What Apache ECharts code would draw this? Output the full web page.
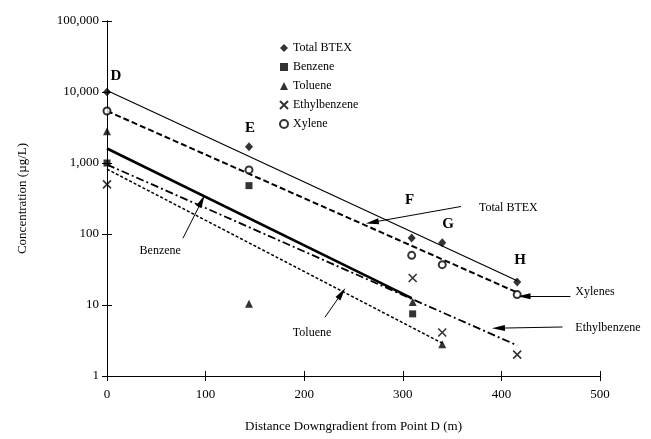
<!DOCTYPE html>
<html><head><meta charset="utf-8">
<script src="https://cdn.jsdelivr.net/npm/echarts@6/dist/echarts.min.js"></script>
<style>html,body{margin:0;padding:0;background:#fff}#c{width:651px;height:439px}</style>
</head><body><div id="c"></div>
<script>
// ---- data ----
const xTicks = [0, 100, 200, 300, 400, 500];
const yTicks = [1, 10, 100, 1000, 10000, 100000];

const totalBTEX   = [[0, 10000], [144, 1700], [309, 88], [340, 75], [416, 21]];
const benzene     = [[0, 1000], [144, 480], [310, 7.5]];
const toluene     = [[0, 2800], [144, 10.4], [310, 11], [340, 2.8]];
const ethylbenz   = [[0, 500], [310, 24], [340, 4.1], [416, 2]];
const xylene      = [[0, 5400], [144, 800], [309, 50], [340, 37], [416, 14]];

const fitTotal    = [[0, 10500], [416, 22]];
const fitXylene   = [[0, 5400], [416, 15]];
const fitBenzene  = [[0, 1600], [309, 12.5]];
const fitEthyl    = [[0, 950], [416, 2.7]];
const fitToluene  = [[0, 820], [341, 2.85]];

const pointNames  = ['D', 'E', 'F', 'G', 'H'];
const pointLabelX = [9, 145, 307, 346, 419];
const pointLabelY = [16900, 3140, 296, 136, 42.6];

const calloutText = ['Total BTEX', 'Benzene', 'Toluene', 'Xylenes', 'Ethylbenzene'];
const calloutX    = [407, 54, 208, 475, 475];
const calloutY    = [236, 57, 4.0, 15.3, 4.75];
const calloutAlign= ['center', 'center', 'center', 'left', 'left'];

const arrowFrom   = [[359, 244], [77, 87], [221, 6.7], [470, 13.3], [462, 4.9]];
const arrowTo     = [[269, 146], [96, 290], [238, 14.6], [423, 13.3], [397, 4.72]];

// ---- chart ----
const FONT = '"Liberation Serif", "DejaVu Serif", serif';
const chart = echarts.init(document.getElementById('c'));
const grid = { left: 107, right: 51, top: 21, bottom: 63 };
const fmt = v => Number(v).toLocaleString('en-US');

const yBase = {
  type: 'log', logBase: 10, min: 1, max: 100000,
  splitLine: { show: false }, minorTick: { show: false }
};
const xBase = { type: 'value', min: 0, max: 500, interval: 100, splitLine: { show: false } };

function fitSeries(name, data, width, dash) {
  return {
    name: name, type: 'line', data: data, symbol: 'none', silent: true,
    lineStyle: { color: '#000', width: width, type: dash },
    z: 2, animation: false
  };
}
function scatter(name, data, symbol, size, itemStyle) {
  return {
    name: name, type: 'scatter', data: data, symbol: symbol, symbolSize: size,
    itemStyle: itemStyle, z: 5, animation: false
  };
}

const option = {
  backgroundColor: '#fff',
  animation: false,
  grid: grid,
  legend: {
    orient: 'vertical', left: 279, top: 41, padding: 0,
    itemWidth: 8, itemHeight: 8, itemGap: 5,
    textStyle: { fontFamily: FONT, fontSize: 12, color: '#000', lineHeight: 14 },
    data: ['Total BTEX', 'Benzene', 'Toluene', 'Ethylbenzene', 'Xylene']
  },
  xAxis: [
    Object.assign({}, xBase, {
      name: 'Distance Downgradient from Point D (m)', nameLocation: 'middle', nameGap: 44,
      nameTextStyle: { fontFamily: FONT, fontSize: 13, color: '#000' },
      axisLine: { lineStyle: { color: '#000', width: 1 } },
      axisTick: { inside: false, length: 5, lineStyle: { color: '#000' } },
      axisLabel: { fontFamily: FONT, fontSize: 13, color: '#000', margin: 12,
        formatter: v => xTicks.indexOf(v) >= 0 ? String(v) : '' }
    }),
    Object.assign({}, xBase, {
      position: 'bottom', offset: 0,
      axisLine: { show: true, lineStyle: { color: '#000', width: 1 } },
      axisTick: { show: true, inside: true, length: 5, lineStyle: { color: '#000' } },
      axisLabel: { show: false }
    })
  ],
  yAxis: [
    Object.assign({}, yBase, {
      name: 'Concentration (\u00b5g/L)', nameLocation: 'middle', nameGap: 78,
      nameTextStyle: { fontFamily: FONT, fontSize: 13, color: '#000' },
      axisLine: { lineStyle: { color: '#000', width: 1 } },
      axisTick: { inside: false, length: 5, lineStyle: { color: '#000' } },
      axisLabel: { fontFamily: FONT, fontSize: 13, color: '#000', margin: 8,
        formatter: v => yTicks.indexOf(Math.round(v)) >= 0 ? fmt(Math.round(v)) : '' }
    }),
    Object.assign({}, yBase, {
      position: 'left', offset: 0,
      axisLine: { show: true, lineStyle: { color: '#000', width: 1 } },
      axisTick: { show: true, inside: true, length: 5, lineStyle: { color: '#000' } },
      axisLabel: { show: false }
    })
  ],
  series: [
    fitSeries('fitTotal', fitTotal, 1.2, 'solid'),
    fitSeries('fitXylene', fitXylene, 2, [6, 3]),
    fitSeries('fitBenzene', fitBenzene, 2.6, 'solid'),
    fitSeries('fitEthyl', fitEthyl, 1.8, [8, 3, 2, 3]),
    fitSeries('fitToluene', fitToluene, 1.5, [3, 2]),
    scatter('Total BTEX', totalBTEX, 'diamond', [8, 9], { color: '#000' }),
    scatter('Benzene', benzene, 'rect', 7, { color: '#000' }),
    scatter('Toluene', toluene, 'triangle', [8, 8], { color: '#000' }),
    scatter('Ethylbenzene', ethylbenz, 'path://M0,0L10,10M10,0L0,10', 8,
      { color: 'transparent', borderColor: '#000', borderWidth: 1.6 }),
    scatter('Xylene', xylene, 'emptyCircle', 7,
      { color: '#000', borderColor: '#000', borderWidth: 1.3 }),
    {
      name: 'arrows', type: 'line', data: [], symbol: 'none', silent: true, animation: false,
      markLine: {
        silent: true, animation: false,
        symbol: ['none', 'triangle'], symbolSize: [6, 13],
        label: { show: false },
        lineStyle: { color: '#000', width: 1, type: 'solid' },
        emphasis: { disabled: true },
        data: arrowFrom.map((f, i) => [{ coord: f }, { coord: arrowTo[i] }])
      }
    }
  ]
};
chart.setOption(option);

// text annotations positioned through the chart's own scales
const texts = [];
pointNames.forEach((t, i) => {
  const p = chart.convertToPixel({ xAxisIndex: 0, yAxisIndex: 0 }, [pointLabelX[i], pointLabelY[i]]);
  texts.push({ type: 'text', x: p[0], y: p[1], z: 10,
    style: { text: t, fontFamily: FONT, fontSize: 15, fontWeight: 'bold', fill: '#000',
      align: 'center', verticalAlign: 'middle' } });
});
calloutText.forEach((t, i) => {
  const p = chart.convertToPixel({ xAxisIndex: 0, yAxisIndex: 0 }, [calloutX[i], calloutY[i]]);
  texts.push({ type: 'text', x: p[0], y: p[1], z: 10,
    style: { text: t, fontFamily: FONT, fontSize: 12, fill: '#000',
      align: calloutAlign[i], verticalAlign: 'middle' } });
});
chart.setOption({ graphic: texts });
</script></body></html>
